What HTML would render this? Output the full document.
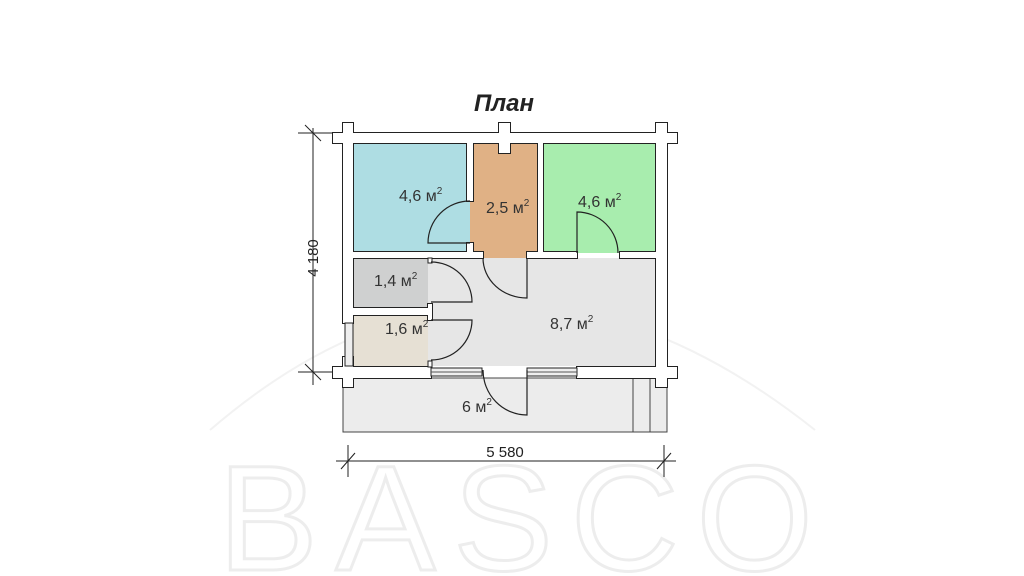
<!DOCTYPE html>
<html><head><meta charset="utf-8"><style>
html,body{margin:0;padding:0;background:#fff;width:1024px;height:576px;overflow:hidden}
svg{display:block}
text{font-family:"Liberation Sans",sans-serif}
</style></head><body>
<svg width="1024" height="576" viewBox="0 0 1024 576">
<defs>
<g id="walls">
<rect x="333" y="133" width="344" height="10"/>
<rect x="343" y="123" width="10" height="30"/>
<rect x="499" y="123" width="11" height="30"/>
<rect x="656" y="123" width="11" height="30"/>
<rect x="499" y="143" width="11" height="10"/>
<rect x="343" y="143" width="10" height="180"/>
<rect x="656" y="143" width="11" height="234"/>
<rect x="467" y="143" width="6" height="58"/>
<rect x="467" y="243" width="6" height="15"/>
<rect x="538" y="143" width="5" height="115"/>
<rect x="353" y="252" width="130" height="6"/>
<rect x="527" y="252" width="50" height="6"/>
<rect x="620" y="252" width="36" height="6"/>
<rect x="353" y="308" width="75" height="7"/>
<rect x="428" y="304" width="4" height="16"/>
<rect x="333" y="367" width="98" height="11"/>
<rect x="343" y="357" width="10" height="30"/>
<rect x="577" y="367" width="100" height="11"/>
<rect x="656" y="357" width="11" height="30"/>
</g>
</defs>
<text x="218" y="570" font-size="150" fill="none" stroke="#ededed" stroke-width="3" textLength="595" lengthAdjust="spacing">BASCO</text>
<path d="M210 430 Q 500 180 815 430" fill="none" stroke="#f2f2f2" stroke-width="2"/>

<rect x="343" y="378" width="324" height="54" fill="#ececec" stroke="#444" stroke-width="1"/>
<line x1="633" y1="378" x2="633" y2="432" stroke="#444"/>
<line x1="650" y1="378" x2="650" y2="432" stroke="#444"/>

<rect x="353" y="143" width="117" height="110" fill="#aedde3"/>
<rect x="470" y="143" width="68" height="115" fill="#e0b185"/>
<rect x="543" y="143" width="113" height="110" fill="#a8edae"/>
<rect x="353" y="258" width="303" height="108" fill="#e6e6e6"/>
<rect x="353" y="258" width="75" height="50" fill="#cfd0d0"/>
<rect x="353" y="315" width="75" height="51" fill="#e6e0d4"/>

<use href="#walls" fill="#222" stroke="#222" stroke-width="2"/>
<use href="#walls" fill="#fff"/>
<rect x="345" y="323" width="8" height="43" fill="#eee" stroke="#222"/>
<rect x="428" y="258" width="4" height="5" fill="#fff" stroke="#222"/>
<rect x="428" y="361" width="4" height="6" fill="#fff" stroke="#222"/>
<rect x="431" y="368" width="51" height="8" fill="#eee" stroke="#222"/>
<rect x="527" y="368" width="50" height="8" fill="#eee" stroke="#222"/>
<line x1="431" y1="372" x2="482" y2="372" stroke="#555"/>
<line x1="527" y1="372" x2="577" y2="372" stroke="#555"/>

<g fill="none" stroke="#222" stroke-width="1.2">
<path d="M470 243 L428 243 A42 42 0 0 1 470 201"/>
<path d="M577 253 L577 212 A41 41 0 0 1 618 253"/>
<path d="M527 258 L527 298 A44 40 0 0 1 483 258"/>
<path d="M431 302 L472 302 A41 40 0 0 0 431 262"/>
<path d="M431 320 L472 320 A41 40 0 0 1 431 360"/>
<path d="M527 370 L527 415 A44 45 0 0 1 483 370"/>
</g>

<g stroke="#222" stroke-width="1">
<line x1="313" y1="128" x2="313" y2="385"/>
<line x1="298" y1="133" x2="333" y2="133"/>
<line x1="305" y1="125" x2="321" y2="141"/>
<line x1="298" y1="372" x2="333" y2="372"/>
<line x1="305" y1="364" x2="321" y2="380"/>
<line x1="336" y1="461" x2="676" y2="461"/>
<line x1="348" y1="445" x2="348" y2="477"/>
<line x1="341" y1="469" x2="355" y2="453"/>
<line x1="664" y1="445" x2="664" y2="477"/>
<line x1="657" y1="469" x2="671" y2="453"/>
</g>
<text x="505" y="457" font-size="15" text-anchor="middle" fill="#222">5 580</text>
<text transform="translate(318,258) rotate(-90)" font-size="15" text-anchor="middle" fill="#222">4 180</text>

<text x="504" y="111" font-size="24" font-weight="bold" font-style="italic" text-anchor="middle" fill="#222">План</text>

<g font-size="16" fill="#333">
<text x="399" y="201">4,6 м<tspan font-size="10" dy="-7">2</tspan></text>
<text x="486" y="213">2,5 м<tspan font-size="10" dy="-7">2</tspan></text>
<text x="578" y="207">4,6 м<tspan font-size="10" dy="-7">2</tspan></text>
<text x="374" y="286">1,4 м<tspan font-size="10" dy="-7">2</tspan></text>
<text x="385" y="334">1,6 м<tspan font-size="10" dy="-7">2</tspan></text>
<text x="550" y="329">8,7 м<tspan font-size="10" dy="-7">2</tspan></text>
<text x="462" y="412">6 м<tspan font-size="10" dy="-7">2</tspan></text>
</g>
</svg>
</body></html>
